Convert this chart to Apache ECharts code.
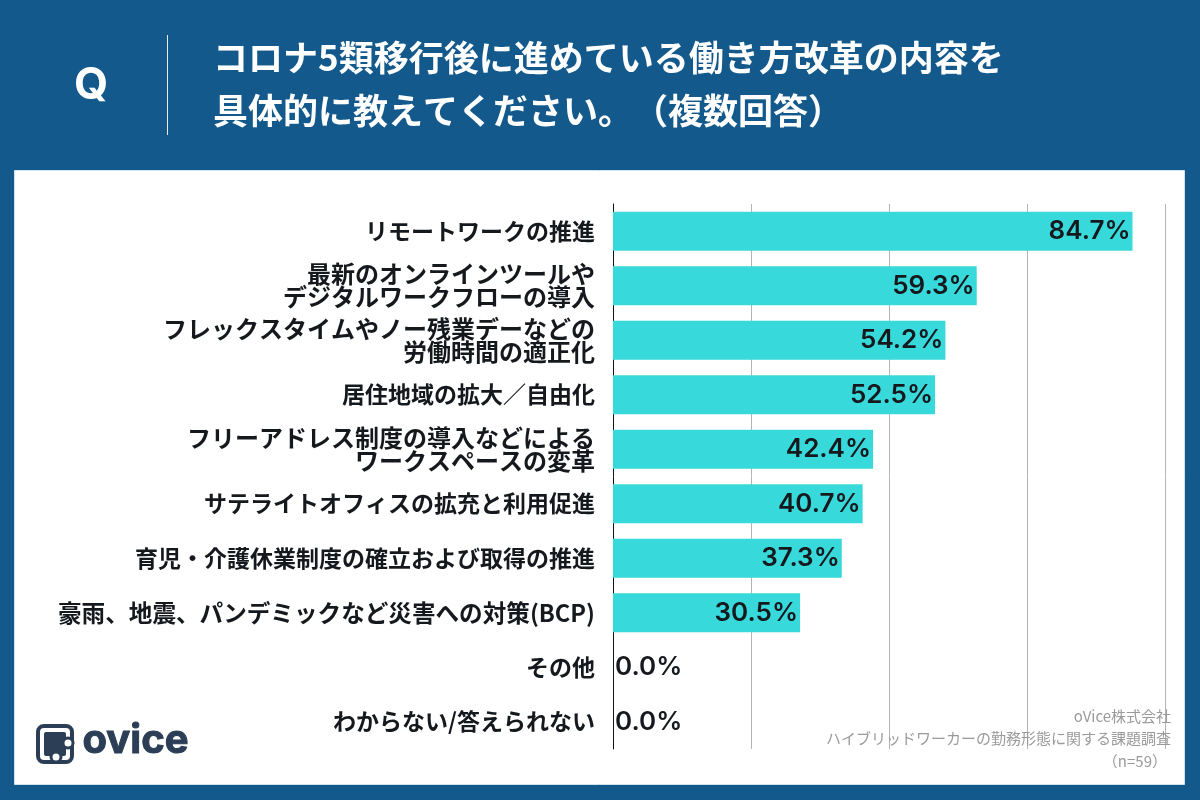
<!DOCTYPE html>
<html>
<head>
<meta charset="utf-8">
<style>
  html, body { margin: 0; padding: 0; background: #13598b; }
  #chart { width: 1200px; height: 800px; }
</style>
<script src="https://cdn.jsdelivr.net/npm/echarts@6/dist/echarts.min.js"></script>
</head>
<body>
<div id="chart"></div>
<script>
const categories = [
  'リモートワークの推進',
  '最新のオンラインツールや\nデジタルワークフローの導入',
  'フレックスタイムやノー残業デーなどの\n労働時間の適正化',
  '居住地域の拡大／自由化',
  'フリーアドレス制度の導入などによる\nワークスペースの変革',
  'サテライトオフィスの拡充と利用促進',
  '育児・介護休業制度の確立および取得の推進',
  '豪雨、地震、パンデミックなど災害への対策(BCP)',
  'その他',
  'わからない/答えられない'
];
const values = [84.7, 59.3, 54.2, 52.5, 42.4, 40.7, 37.3, 30.5, 0.0, 0.0];
const titleLines = ['コロナ5類移行後に進めている働き方改革の内容を', '具体的に教えてください。　（複数回答）'];
const sourceLines = ['oVice株式会社', 'ハイブリッドワーカーの勤務形態に関する課題調査', '（n=59）'];

const font = '"Noto Sans CJK JP", "Noto Sans", sans-serif';
const blue = '#13598b';
const logo = '#2b3e55';

const myChart = echarts.init(document.getElementById('chart'), null, { renderer: 'canvas' });

const option = {
  backgroundColor: blue,
  animation: false,
  grid: { left: 613, top: 204, width: 552, height: 545, containLabel: false },
  xAxis: {
    type: 'value',
    min: 0,
    max: 90,
    interval: 22.5,
    axisLabel: { show: false },
    axisLine: { show: false },
    axisTick: { show: false },
    splitLine: { show: true, lineStyle: { color: '#b4b4b4', width: 1 } }
  },
  yAxis: {
    type: 'category',
    inverse: true,
    // the two-line labels and the long BCP one run a little wider in the reference
    data: categories.map(c => ({
      value: c,
      textStyle: { fontSize: c.includes('\n') ? 24 : (c.includes('BCP') ? 23.6 : 23) }
    })),
    axisTick: { show: false },
    axisLine: { show: true, lineStyle: { color: '#111111', width: 1 } },
    axisLabel: {
      color: '#15181d',
      fontFamily: font,
      fontWeight: 'bold',
      fontSize: 23,
      lineHeight: 23,
      margin: 18,
      align: 'right'
    }
  },
  series: [
    {
      type: 'bar',
      barWidth: 39,
      z: 3,
      itemStyle: { color: '#38d9db' },
      data: values.map(v => ({
        value: v,
        label: { position: v > 0 ? 'insideRight' : 'right' }
      })),
      label: {
        show: true,
        color: '#15181d',
        fontFamily: 'Inter, "Noto Sans", sans-serif',
        fontWeight: 600,
        fontSize: 26,
        distance: 2,
        formatter: p => p.value.toFixed(1) + '%'
      }
    }
  ],
  graphic: [
    // white panel
    { type: 'rect', z: -10, silent: true, shape: { x: 14.5, y: 170.5, width: 1170, height: 614 },
      style: { fill: '#ffffff', stroke: '#cfe3ee', lineWidth: 1 } },
    // header
    { type: 'text', left: 74, top: 64, style: { text: 'Q', fill: '#fff', font: 'bold 44px Inter, sans-serif' } },
    { type: 'line', shape: { x1: 167.5, y1: 35, x2: 167.5, y2: 135 }, style: { stroke: '#e6edf2', lineWidth: 1 } },
    { type: 'text', left: 213, top: 40, style: { text: titleLines[0], fill: '#fff', font: 'bold 35px ' + font } },
    { type: 'text', left: 213, top: 93, style: { text: titleLines[1], fill: '#fff', font: 'bold 35px ' + font } },
    // source note
    { type: 'text', right: 29, top: 709, z: 10, style: { text: sourceLines[0], fill: '#9a9a9a', font: '15px ' + font, align: 'right' } },
    { type: 'text', right: 29, top: 731, z: 10, style: { text: sourceLines[1], fill: '#9a9a9a', font: '15px ' + font, align: 'right' } },
    { type: 'text', right: 33, top: 754, z: 10, style: { text: sourceLines[2], fill: '#9a9a9a', font: '15px ' + font, align: 'right' } },
    // ovice logo
    { type: 'rect', z: 10, shape: { x: 38, y: 726, width: 34, height: 36, r: 6 }, style: { fill: '#fff', stroke: logo, lineWidth: 4 } },
    { type: 'rect', z: 10, shape: { x: 44, y: 732, width: 22, height: 24, r: 2 }, style: { fill: logo } },
    { type: 'circle', z: 11, shape: { cx: 68, cy: 743, r: 5 }, style: { fill: '#fff', stroke: logo, lineWidth: 3 } },
    { type: 'circle', z: 11, shape: { cx: 56, cy: 757, r: 5 }, style: { fill: '#fff', stroke: logo, lineWidth: 3 } },
    { type: 'text', left: 82, top: 720, z: 10, style: { text: 'ovice', fill: logo, stroke: logo, lineWidth: 1, font: 'bold 40px Inter, sans-serif' } }
  ]
};
myChart.setOption(option);
window.addEventListener('resize', myChart.resize);
</script>
</body>
</html>
